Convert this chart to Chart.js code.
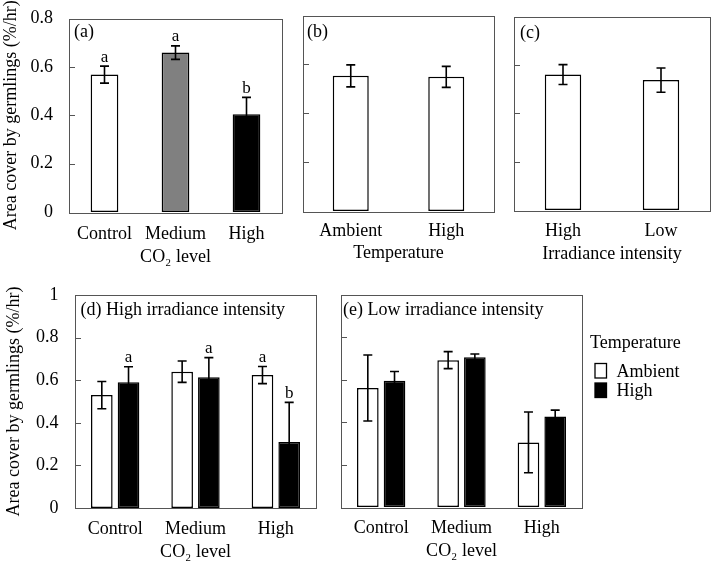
<!DOCTYPE html>
<html>
<head>
<meta charset="utf-8">
<script src="https://cdn.jsdelivr.net/npm/chart.js@4.4.1/dist/chart.umd.min.js"></script>
<style>
  body { margin: 0; background: #fff; }
  #wrap { position: relative; width: 712px; height: 565px; }
  canvas { position: absolute; }
</style>
</head>
<body>
<div id="wrap">
  <canvas id="pa" width="292" height="270" style="left:0px;top:0px"></canvas>
  <canvas id="pb" width="212" height="270" style="left:290px;top:0px"></canvas>
  <canvas id="pc" width="210" height="270" style="left:502px;top:0px"></canvas>
  <canvas id="pd" width="330" height="295" style="left:0px;top:270px"></canvas>
  <canvas id="pe" width="382" height="295" style="left:330px;top:270px"></canvas>
</div>
<script>
// categories
var co2Levels = ['Control', 'Medium', 'High'];
var tempLevels = ['Ambient', 'High'];
var irrLevels = ['High', 'Low'];

// (a) CO2 level
var aMeans = [0.568, 0.659, 0.404];
var aErr = [0.035, 0.028, 0.07];
var aLetters = ['a', 'a', 'b'];

// (b) temperature
var bMeans = [0.553, 0.549];
var bErr = [0.045, 0.043];

// (c) irradiance
var cMeans = [0.56, 0.537];
var cErr = [0.041, 0.05];

// (d) high irradiance
var dAmbient = [0.53, 0.64, 0.624];
var dAmbientErr = [0.064, 0.05, 0.04];
var dHigh = [0.59, 0.614, 0.31];
var dHighErr = [0.073, 0.092, 0.186];
var dAmbientLetters = ['', '', 'a'];
var dHighLetters = ['a', 'a', 'b'];

// (e) low irradiance
var eAmbient = [0.56, 0.691, 0.304];
var eAmbientErr = [0.155, 0.04, 0.143];
var eHigh = [0.594, 0.705, 0.426];
var eHighErr = [0.044, 0.015, 0.03];

var ticks08 = [0, 0.2, 0.4, 0.6, 0.8];
var ticks1 = [0, 0.2, 0.4, 0.6, 0.8, 1];

var FONT = 'Liberation Serif, Times New Roman, serif';
Chart.defaults.font.family = FONT;
Chart.defaults.font.size = 18;
Chart.defaults.color = '#000';

var panelPlugin = {
    id: 'panel',
    afterDatasetsDraw: function(chart) {
        var o = chart.options.plugins.panel;
        var ctx = chart.ctx;
        var a = chart.chartArea;
        var y = chart.scales.y;
        ctx.save();
        // error bars
        ctx.strokeStyle = '#000';
        ctx.lineWidth = 1.6;
        chart.data.datasets.forEach(function(ds, di) {
            var meta = chart.getDatasetMeta(di);
            var errs = o.errors[di];
            meta.data.forEach(function(bar, i) {
                var v = ds.data[i], e = errs[i];
                var yt = y.getPixelForValue(v + e), yb = y.getPixelForValue(v - e);
                ctx.beginPath();
                ctx.moveTo(bar.x, yt); ctx.lineTo(bar.x, yb);
                ctx.moveTo(bar.x - 4.5, yt); ctx.lineTo(bar.x + 4.5, yt);
                ctx.moveTo(bar.x - 4.5, yb); ctx.lineTo(bar.x + 4.5, yb);
                ctx.stroke();
                var lt = o.letters && o.letters[di] && o.letters[di][i];
                if (lt) {
                    ctx.fillStyle = '#000';
                    ctx.font = '17px ' + FONT;
                    ctx.textAlign = 'center';
                    ctx.textBaseline = 'alphabetic';
                    ctx.fillText(lt, bar.x, yt - 4.5);
                }
            });
        });
        // frame
        ctx.strokeStyle = '#555';
        ctx.lineWidth = 1;
        ctx.strokeRect(Math.round(a.left) + 0.5, Math.round(a.top) + 0.5,
            Math.round(a.right - a.left), Math.round(a.bottom - a.top));
        // inward ticks
        y.ticks.forEach(function(t) {
            if (t.value <= y.min || t.value >= y.max) return;
            var py = Math.round(y.getPixelForValue(t.value)) + 0.5;
            ctx.beginPath();
            ctx.moveTo(a.left, py); ctx.lineTo(a.left + 6, py);
            ctx.stroke();
        });
        // panel label
        ctx.fillStyle = '#000';
        ctx.font = '18px ' + FONT;
        ctx.textAlign = 'left';
        ctx.textBaseline = 'alphabetic';
        ctx.fillText(o.label, a.left + o.labelDx, a.top + o.labelDy);
        // legend
        if (o.legend) {
            var L = o.legend;
            ctx.fillText(L.title, L.x, L.y);
            L.items.forEach(function(it, k) {
                var by = L.y + 16 + k * 19.5;
                ctx.fillStyle = it.color;
                ctx.fillRect(L.x + 5, by, 11.5, 14.5);
                ctx.strokeStyle = '#000';
                ctx.lineWidth = 1.3;
                ctx.strokeRect(L.x + 5, by, 11.5, 14.5);
                ctx.fillStyle = '#000';
                ctx.fillText(it.text, L.x + 26.5, by + 13);
            });
        }
        ctx.restore();
    }
};

function makePanel(id, cfg) {
    var yTicks = cfg.tickValues;
    return new Chart(document.getElementById(id), {
        type: 'bar',
        data: { labels: cfg.labels, datasets: cfg.datasets },
        options: {
            responsive: false,
            animation: false,
            devicePixelRatio: 1,
            layout: { padding: cfg.padding },
            datasets: { bar: { categoryPercentage: cfg.catPct, barPercentage: cfg.barPct } },
            plugins: {
                legend: { display: false },
                tooltip: { enabled: false },
                panel: { label: cfg.label, labelDx: cfg.labelDx, labelDy: cfg.labelDy,
                         errors: cfg.errors, letters: cfg.letters, legend: cfg.legend }
            },
            scales: {
                x: {
                    grid: { display: false, drawTicks: false },
                    border: { display: false },
                    ticks: { padding: cfg.xPad, maxRotation: 0, autoSkip: false },
                    title: { display: true, text: cfg.xTitle, padding: { top: 0, bottom: cfg.xTitlePad } },
                    afterFit: function(s) {
                        s.height = cfg.xHeight;
                        s.paddingLeft = 0; s.paddingRight = 0;
                    }
                },
                y: {
                    min: 0,
                    max: yTicks[yTicks.length - 1],
                    grid: { display: false, drawTicks: false },
                    border: { display: false },
                    afterBuildTicks: function(s) { s.ticks = yTicks.map(function(v) { return { value: v }; }); },
                    ticks: { display: cfg.showY, padding: cfg.yPad, callback: function(v) { return String(v); } },
                    title: { display: cfg.showY, text: 'Area cover by germlings (%/hr)', padding: { top: cfg.yTitlePad, bottom: 0 } },
                    afterFit: function(s) {
                        s.width = cfg.yWidth;
                        s.paddingTop = 0; s.paddingBottom = 0;
                    }
                }
            }
        },
        plugins: [panelPlugin]
    });
}

function barStyle(fill) {
    return { backgroundColor: fill, borderColor: '#000', borderWidth: 1.5, borderSkipped: false };
}

makePanel('pa', {
    labels: co2Levels,
    datasets: [Object.assign({ data: aMeans }, barStyle(['#ffffff', '#808080', '#000000']))],
    errors: [aErr], letters: [aLetters],
    tickValues: ticks08, showY: true, yPad: 16, yTitlePad: 0, yWidth: 69,
    xPad: 11, xTitle: 'CO\u2082 level', xTitlePad: 2, xHeight: 58,
    padding: { left: 0, top: 18.5, right: 10, bottom: 0 },
    catPct: 1, barPct: 0.39, label: '(a)', labelDx: 5, labelDy: 18
});

makePanel('pb', {
    labels: tempLevels,
    datasets: [Object.assign({ data: bMeans }, barStyle('#ffffff'))],
    errors: [bErr],
    tickValues: ticks08, showY: false, yPad: 0, yTitlePad: 0, yWidth: 0,
    xPad: 9, xTitle: 'Temperature', xTitlePad: 6, xHeight: 59,
    padding: { left: 13, top: 15.5, right: 8, bottom: 0 },
    catPct: 1, barPct: 0.377, label: '(b)', labelDx: 4, labelDy: 21
});

makePanel('pc', {
    labels: irrLevels,
    datasets: [Object.assign({ data: cMeans }, barStyle('#ffffff'))],
    errors: [cErr],
    tickValues: ticks08, showY: false, yPad: 0, yTitlePad: 0, yWidth: 0,
    xPad: 10, xTitle: 'Irradiance intensity', xTitlePad: 5, xHeight: 60,
    padding: { left: 12, top: 16.5, right: 2, bottom: 0 },
    catPct: 1, barPct: 0.372, label: '(c)', labelDx: 6, labelDy: 21
});

makePanel('pd', {
    labels: co2Levels,
    datasets: [
        Object.assign({ label: 'Ambient', data: dAmbient }, barStyle('#ffffff')),
        Object.assign({ label: 'High', data: dHigh }, barStyle('#000000'))
    ],
    errors: [dAmbientErr, dHighErr], letters: [dAmbientLetters, dHighLetters],
    tickValues: ticks1, showY: true, yPad: 16.5, yTitlePad: 3, yWidth: 75,
    xPad: 10.5, xTitle: 'CO\u2082 level', xTitlePad: 2, xHeight: 57,
    padding: { left: 0, top: 25, right: 14, bottom: 0 },
    catPct: 0.665, barPct: 0.81, label: '(d) High irradiance intensity', labelDx: 5.5, labelDy: 20
});

makePanel('pe', {
    labels: co2Levels,
    datasets: [
        Object.assign({ label: 'Ambient', data: eAmbient }, barStyle('#ffffff')),
        Object.assign({ label: 'High', data: eHigh }, barStyle('#000000'))
    ],
    errors: [eAmbientErr, eHighErr],
    tickValues: ticks1, showY: false, yPad: 0, yTitlePad: 0, yWidth: 0,
    xPad: 10.5, xTitle: 'CO\u2082 level', xTitlePad: 3, xHeight: 58,
    padding: { left: 11, top: 24.5, right: 130, bottom: 0 },
    catPct: 0.665, barPct: 0.81, label: '(e) Low irradiance intensity', labelDx: 2, labelDy: 20.5,
    legend: { title: 'Temperature', x: 260, y: 77.5,
              items: [{ text: 'Ambient', color: '#ffffff' }, { text: 'High', color: '#000000' }] }
});
</script>
</body>
</html>
